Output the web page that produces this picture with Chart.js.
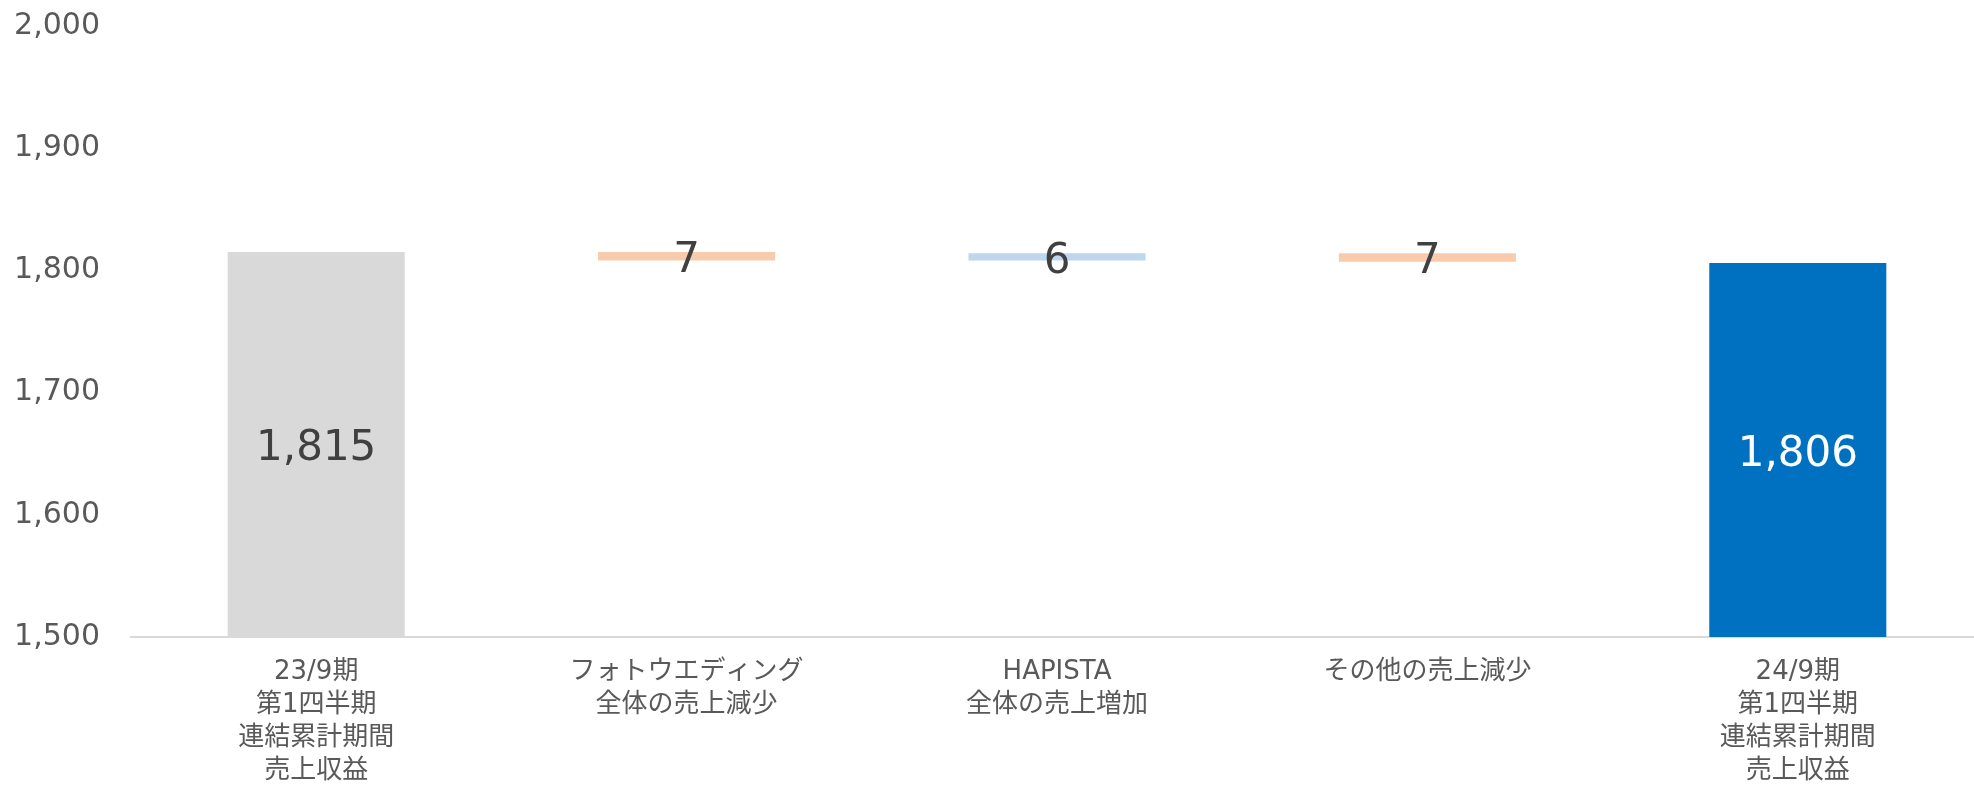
<!DOCTYPE html>
<html>
<head>
<meta charset="utf-8">
<script src="https://cdn.jsdelivr.net/npm/chart.js@4"></script>
<style>
  html, body { margin: 0; padding: 0; background: #fff; overflow: hidden; }
  #wrap { width: 1984px; height: 788px; }
</style>
</head>
<body>
<div id="wrap"><canvas id="bridge" width="1984" height="788"></canvas></div>
<script>
const categories = [
  ["23/9期", "第1四半期", "連結累計期間", "売上収益"],
  ["フォトウエディング", "全体の売上減少"],
  ["HAPISTA", "全体の売上増加"],
  ["その他の売上減少"],
  ["24/9期", "第1四半期", "連結累計期間", "売上収益"]
];
const barStarts = [1500, 1808, 1808, 1807, 1500];
const barEnds = [1815, 1815, 1814, 1814, 1806];
const isTotal = [true, false, false, false, true];
const barColors = ["#D9D9D9", "#F8CBAD", "#BDD7EE", "#F8CBAD", "#0070C0"];
const labelColors = ["#404040", "#404040", "#404040", "#404040", "#FFFFFF"];

const textFont = "'DejaVu Sans', 'Noto Sans CJK JP', sans-serif";

// value labels drawn in the middle of each bar
const barLabelPlugin = {
  id: "barLabels",
  afterDatasetsDraw(chart) {
    const ctx = chart.ctx;
    const meta = chart.getDatasetMeta(0);
    ctx.save();
    ctx.font = "42px " + textFont;
    ctx.textAlign = "center";
    ctx.textBaseline = "middle";
    meta.data.forEach((bar, i) => {
      const txt = isTotal[i]
        ? barEnds[i].toLocaleString("en-US")
        : String(Math.abs(barEnds[i] - barStarts[i]));
      ctx.fillStyle = labelColors[i];
      ctx.fillText(txt, bar.x, (bar.y + bar.base) / 2 + 5);
    });
    ctx.restore();
  }
};

new Chart(document.getElementById("bridge"), {
  type: "bar",
  data: {
    labels: categories,
    datasets: [{
      data: barStarts.map((s, i) => [s, barEnds[i]]),
      backgroundColor: barColors,
      borderWidth: 0,
      categoryPercentage: 1,
      barPercentage: 0.478
    }]
  },
  options: {
    responsive: false,
    animation: false,
    layout: { padding: { top: 0, right: 1, left: 0, bottom: 0 } },
    plugins: { legend: { display: false }, tooltip: { enabled: false } },
    scales: {
      x: {
        grid: { display: false, drawTicks: false },
        border: { display: true, color: "#D9D9D9", width: 2 },
        ticks: {
          color: "#595959",
          font: { family: textFont, size: 26, lineHeight: 1.27 },
          padding: 19,
          maxRotation: 0,
          autoSkip: false
        },
        afterFit(scale) { scale.height = 151; }
      },
      y: {
        min: 1500,
        max: 2000,
        grid: { display: false, drawTicks: false },
        border: { display: false },
        ticks: {
          stepSize: 100,
          color: "#595959",
          padding: 31,
          font: { family: textFont, size: 30 },
          callback: (v) => v.toLocaleString("en-US")
        },
        afterFit(scale) {
          scale.width = 131;
          scale.paddingTop = 26;
          scale.paddingBottom = 0;
        }
      }
    }
  },
  plugins: [barLabelPlugin]
});
</script>
</body>
</html>
